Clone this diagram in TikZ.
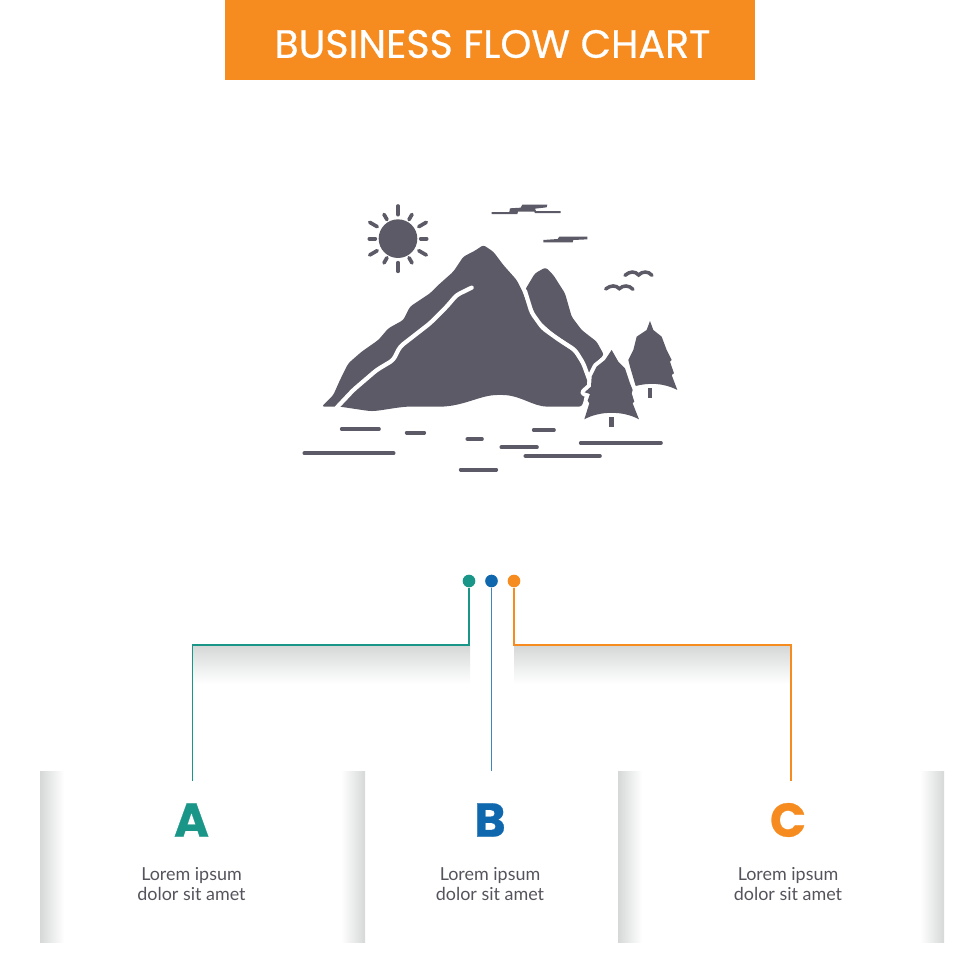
\documentclass[tikz,border=0pt]{standalone}
\usepackage{fontspec}
\usetikzlibrary{calc}
\setmainfont{Poppins}
\newfontfamily\bodyfont{Lato}
\definecolor{hillgray}{HTML}{5C5A66}
\definecolor{textgray}{HTML}{55545C}
\definecolor{shadegray}{HTML}{D6D8D8}
\definecolor{flowteal}{HTML}{1A9688}
\definecolor{flowblue}{HTML}{0F67AD}
\definecolor{floworange}{HTML}{F68B1F}
\tikzset{
  hillfill/.style={fill=hillgray, rounded corners=1.5pt},
  treefill/.style={fill=hillgray, preaction={draw=white, line width=4.6pt, line join=round}},
  gapline/.style={white, line width=2.4pt, line cap=round, line join=round, rounded corners=2pt},
  waterline/.style={hillgray, line width=2.1pt, line cap=round},
  dotnode/.style={circle, inner sep=0pt, minimum size=7.2pt},
  flowline/.style={line width=1pt},
  letternode/.style={font=\fontsize{27}{27}\selectfont\bfseries\addfontfeature{FakeBold=0.6}},
  bodynode/.style={align=center, text=textgray, font=\bodyfont\fontsize{10.2}{11.4}\selectfont},
}
\begin{document}
\begin{tikzpicture}[x=0.02cm, y=-0.02cm]
\useasboundingbox (0,0) rectangle (980,980);

% Title bar
\node[fill=floworange, minimum width=530*0.02cm, minimum height=80*0.02cm, inner sep=0pt] (title) at (490,40) {};
\node[text=white, font=\fontsize{22.5}{24}\selectfont\addfontfeature{FakeBold=0.5}] (titletext) at (492.5,44) {BUSINESS FLOW CHART};

% Icon, coordinates as read from the crop
\begin{scope}[shift={(290,190)}, x=0.02cm/3, y=-0.02cm/3]
% Sun
\fill[hillgray] (324,146) circle (58);
\foreach \ang/\rin/\rout in {90/72/98, 270/72/98, 30/72/98, 150/72/98, 210/72/98, 330/72/98,
    0/68/86, 180/68/86, 60/66/84, 120/66/84, 240/66/84, 300/66/84}
  \draw[waterline] ($(324,146)+(\ang:\rin)$) -- ($(324,146)+(\ang:\rout)$);

% Clouds
\fill[hillgray] (605,66) -- (658,66) -- (660,55) -- (692,53) -- (697,44) -- (772,44) -- (770,52) -- (735,56)
  -- (738,63) -- (812,63) -- (812,69) -- (735,69) -- (733,65) -- (684,65) -- (682,72) -- (605,72) -- cycle;
\fill[hillgray] (760,150) -- (803,147) -- (808,140) -- (892,140) -- (892,148) -- (850,150) -- (848,157) -- (760,157) -- cycle;

% Birds
\draw[hillgray, line width=2pt, line cap=round] (1005,256) .. controls (1020,243) and (1035,243) .. (1046,255)
  .. controls (1057,243) and (1075,243) .. (1086,256);
\draw[hillgray, line width=2pt, line cap=round] (947,297) .. controls (962,285) and (978,285) .. (988,296)
  .. controls (1000,285) and (1017,285) .. (1029,298);

% Back hill
\fill[hillfill] (705,300) -- (735,250) -- (767,232) -- (790,255) -- (825,310) -- (845,380) -- (875,420)
  -- (920,455) -- (942,495) -- (915,520) -- (897,565) -- (880,510) -- (850,470) -- (790,430) -- (740,385)
  -- (720,340) -- cycle;

% Front hill
\fill[hillfill] (95,650) -- (130,615) -- (150,570) -- (175,520) -- (215,485) -- (265,450) -- (295,415)
  -- (340,390) -- (360,350) -- (420,310) -- (445,285) -- (490,245) -- (520,200) -- (555,182) -- (580,165)
  -- (610,185) -- (640,225) -- (680,270) -- (700,310) -- (720,365) -- (750,410) -- (800,450) -- (850,485)
  -- (875,520) -- (893,570) -- (885,620) -- (875,650) -- (780,650) .. controls (730,650) and (690,615) .. (630,615)
  .. controls (570,615) and (520,650) .. (440,650) -- (350,650) .. controls (300,655) and (260,665) .. (230,662)
  -- (150,650) -- cycle;

% Gap between the hills
\draw[gapline] (705,303) -- (725,368) -- (758,414) -- (808,450) -- (855,480) -- (880,520) -- (897,567);

% River
\draw[gapline] (140,653) -- (190,600) -- (260,540)
  -- (310,510) -- (330,470) -- (420,400) -- (470,350) -- (500,315) -- (545,293);

% Trees
\fill[treefill] (1080,393) -- (1090,420) -- (1115,440) -- (1130,480) -- (1145,510) -- (1140,515) -- (1152,550)
  -- (1145,555) -- (1162,600) .. controls (1120,578) and (1075,578) .. (1037,588) -- (1020,530) -- (1015,510)
  -- (1030,480) -- (1040,440) -- (1070,420) -- cycle;
\draw[hillgray, line width=2.8pt] (1080,595) -- (1080,625);
\fill[treefill] (965,480) -- (985,515) -- (1005,535) -- (1020,580)
  -- (1028,600) -- (1025,610) -- (1033,635) -- (1028,640) -- (1047,688) .. controls (1000,662) and (930,662) .. (883,688)
  -- (898,640) -- (893,632) -- (900,612) -- (884,607) -- (903,590) -- (905,560) -- (920,530) -- (945,510) -- cycle;
\draw[hillgray, line width=2.8pt] (965,682) -- (965,712);

% Water
\foreach \xa/\xb/\ya in {155/267/717, 350/403/728, 43/311/790, 532/576/747, 731/792/720,
    634/741/772, 872/1113/759, 706/930/798, 512/619/839}
  \draw[waterline] (\xa,\ya) -- (\xb,\ya);
\end{scope}

% Shadow under the branches
\shade[top color=shadegray, bottom color=white] (193,646) rectangle (470,684);
\shade[top color=shadegray, bottom color=white] (514,646) rectangle (791,684);

% Panel sides
\shade[left color=shadegray, right color=white] (40,771) rectangle (64,942);
\shade[left color=white, right color=shadegray] (341,771) rectangle (365,942);
\shade[left color=shadegray, right color=white] (618,771) rectangle (642,942);
\shade[left color=white, right color=shadegray] (920,771) rectangle (944,942);

% Dots
\node[dotnode, fill=flowteal] (dota) at (469,581) {};
\node[dotnode, fill=flowblue] (dotb) at (491.5,581) {};
\node[dotnode, fill=floworange] (dotc) at (514,581) {};

% Letters and text
\node[letternode, text=flowteal] (lettera) at (191.5,820) {A};
\node[letternode, text=flowblue] (letterb) at (490,820) {B};
\node[letternode, text=floworange] (letterc) at (788,820) {C};
\node[bodynode] (texta) at (191.5,884) {Lorem ipsum\\dolor sit amet};
\node[bodynode] (textb) at (490,884) {Lorem ipsum\\dolor sit amet};
\node[bodynode] (textc) at (788,884) {Lorem ipsum\\dolor sit amet};

% Connectors
\coordinate (kneea) at (192.5,645);
\coordinate (enda) at (192.5,781);
\coordinate (endb) at (491.5,771);
\coordinate (kneec) at (791,645);
\coordinate (endc) at (791,781);
\draw[flowline, flowteal] (dota) |- (kneea) -- (enda);
\draw[flowline, flowblue!80!white] (dotb) -- (endb);
\draw[flowline, floworange] (dotc) |- (kneec) -- (endc);
\end{tikzpicture}
\end{document}
